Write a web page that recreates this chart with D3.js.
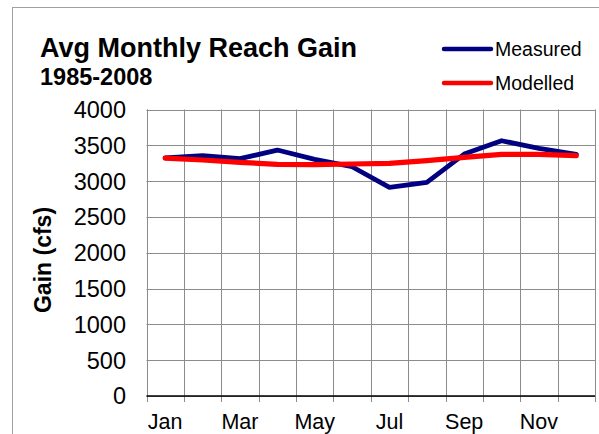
<!DOCTYPE html>
<html><head><meta charset="utf-8">
<script src="https://cdn.jsdelivr.net/npm/d3@7"></script>
<style>
html,body{margin:0;padding:0;background:#fff;}
svg{display:block;font-family:"Liberation Sans",Arial,sans-serif;}
</style></head>
<body>
<script>
const months = ["Jan","Feb","Mar","Apr","May","Jun","Jul","Aug","Sep","Oct","Nov","Dec"];
const measured = [3325,3355,3313,3434,3304,3201,2913,2983,3378,3564,3458,3374];
const modelled = [3320,3295,3263,3235,3229,3239,3249,3285,3332,3374,3374,3355];
const yTicks = [0,500,1000,1500,2000,2500,3000,3500,4000];
const labelMonths = ["Jan","Mar","May","Jul","Sep","Nov"];

const W = 599, H = 434;
const m = {left:146.5, right:595, top:109.5, bottom:396};
const svg = d3.select("body").append("svg").attr("width",W).attr("height",H);
svg.append("rect").attr("width",W).attr("height",H).attr("fill","#fff");
// outer chart border (clipped by page)
svg.append("rect").attr("x",12.5).attr("y",7.5).attr("width",W).attr("height",H)
  .attr("fill","none").attr("stroke","#a0a0a0").attr("stroke-width",1);

const x = d3.scaleBand().domain(months).range([m.left,m.right]).padding(0);
const y = d3.scaleLinear().domain([0,4000]).range([m.bottom,m.top]);

// horizontal gridlines
svg.append("g").selectAll("line").data(yTicks).join("line")
  .attr("x1",m.left).attr("x2",m.right)
  .attr("y1",d=>Math.round(y(d))+0.5).attr("y2",d=>Math.round(y(d))+0.5)
  .attr("stroke","#8c8c8c").attr("stroke-width",1);
// vertical gridlines (band edges), extending below axis as ticks
const edges = months.map(d=>x(d)).concat([m.right]);
svg.append("g").selectAll("line").data(edges).join("line")
  .attr("x1",d=>Math.round(d)+0.5).attr("x2",d=>Math.round(d)+0.5)
  .attr("y1",m.top).attr("y2",m.bottom+6)
  .attr("stroke","#8c8c8c").attr("stroke-width",1);
// y axis line
svg.append("line").attr("x1",Math.round(m.left)+0.5).attr("x2",Math.round(m.left)+0.5)
  .attr("y1",m.top).attr("y2",m.bottom).attr("stroke","#8c8c8c");
// x axis line
svg.append("line").attr("x1",m.left).attr("x2",m.right)
  .attr("y1",m.bottom).attr("y2",m.bottom).attr("stroke","#000").attr("stroke-width",1.5);

// y tick labels
svg.append("g").selectAll("text").data(yTicks).join("text")
  .attr("x",126).attr("y",d=>y(d)).attr("dy","0.36em")
  .attr("text-anchor","end").attr("font-size",23.5).attr("fill","#000").text(d=>d);
// x tick labels
svg.append("g").selectAll("text").data(labelMonths).join("text")
  .attr("x",d=>x(d)+x.bandwidth()/2).attr("y",429)
  .attr("text-anchor","middle").attr("font-size",21.5).attr("fill","#000").text(d=>d);

// axis title
svg.append("text").attr("transform","translate(51,260) rotate(-90)")
  .attr("text-anchor","middle").attr("font-size",23).attr("font-weight","bold").text("Gain (cfs)");

// title
svg.append("text").attr("x",40).attr("y",57).attr("font-size",27).attr("font-weight","bold").text("Avg Monthly Reach Gain");
svg.append("text").attr("x",40).attr("y",85).attr("font-size",23.5).attr("font-weight","bold").text("1985-2008");

// lines
const line = d3.line().x((d,i)=>x(months[i])+x.bandwidth()/2).y(d=>y(d));
svg.append("path").datum(measured).attr("d",line).attr("fill","none")
  .attr("stroke","#000080").attr("stroke-width",4.8).attr("stroke-linejoin","round").attr("stroke-linecap","round");
svg.append("path").datum(modelled).attr("d",line).attr("fill","none")
  .attr("stroke","#ff0000").attr("stroke-width",5.2).attr("stroke-linejoin","round").attr("stroke-linecap","round");

// legend
const legend = [{name:"Measured",color:"#000080",y:49},{name:"Modelled",color:"#ff0000",y:83}];
const lg = svg.append("g").selectAll("g").data(legend).join("g");
lg.append("line").attr("x1",444).attr("x2",491).attr("y1",d=>d.y).attr("y2",d=>d.y)
  .attr("stroke",d=>d.color).attr("stroke-width",4.5).attr("stroke-linecap","round");
lg.append("text").attr("x",495).attr("y",d=>d.y+7).attr("font-size",19.5).text(d=>d.name);
</script>
</body></html>
